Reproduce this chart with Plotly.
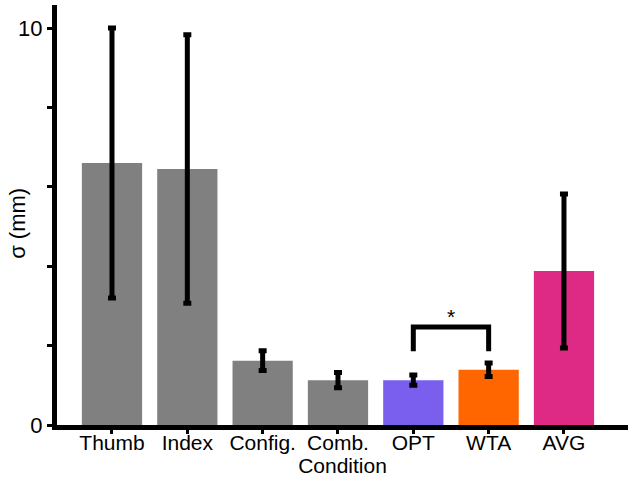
import plotly.graph_objects as go

categories = ["Thumb", "Index", "Config.", "Comb.", "OPT", "WTA", "AVG"]
means = [6.6, 6.45, 1.62, 1.13, 1.13, 1.39, 3.88]
errors = [3.4, 3.38, 0.25, 0.19, 0.13, 0.17, 1.94]
colors = ["#808080", "#808080", "#808080", "#808080", "#7A5FEF", "#FF6600", "#DE2A84"]
yticks = [0, 2, 4, 6, 8, 10]
yticklabels = ["0", "", "", "", "", "10"]
sig_pair = ["OPT", "WTA"]
sig_y = [1.86, 2.47]

fig = go.Figure()
fig.add_trace(go.Bar(
    x=categories, y=means, width=0.8,
    marker=dict(color=colors, line=dict(width=0)),
    error_y=dict(type="data", array=errors, visible=True, color="black", thickness=5, width=4),
    showlegend=False,
))
# significance bracket
fig.add_trace(go.Scatter(
    x=[sig_pair[0], sig_pair[0], sig_pair[1], sig_pair[1]],
    y=[sig_y[0], sig_y[1], sig_y[1], sig_y[0]],
    mode="lines", line=dict(color="black", width=5), showlegend=False, hoverinfo="skip",
))
fig.add_annotation(x=4.5, y=sig_y[1], text="*", showarrow=False, yanchor="bottom",
                   font=dict(size=21, color="black", family="Arial, Liberation Sans"), yshift=-3)
# y-axis title
fig.add_annotation(x=0, y=0.479, xref="paper", yref="paper", text="σ (mm)", textangle=-90,
                   showarrow=False, xanchor="center", yanchor="middle", xshift=-39,
                   font=dict(size=22, color="black", family="Arial, Liberation Sans"))

fig.update_layout(
    width=630, height=483,
    margin=dict(l=57, r=2, t=5, b=58),
    plot_bgcolor="white", paper_bgcolor="white",
    font=dict(family="Arial, Liberation Sans, sans-serif", color="black", size=21),
    bargap=0.2,
    xaxis=dict(
        showline=True, linecolor="black", linewidth=5,
        ticks="outside", ticklen=4, tickwidth=3, tickcolor="black",
        tickfont=dict(size=21), range=[-0.73, 6.85], automargin=False,
        ticklabelstandoff=-9,
        title=dict(text="Condition", font=dict(size=21), standoff=0),
        showgrid=False, zeroline=False,
    ),
    yaxis=dict(
        showline=True, linecolor="black", linewidth=5,
        ticks="outside", ticklen=5, tickwidth=3, tickcolor="black",
        tickvals=yticks, ticktext=yticklabels, tickfont=dict(size=22),
        range=[0, 10.58], showgrid=False, zeroline=False, automargin=False,
    ),
)
fig.write_html("out.html")
